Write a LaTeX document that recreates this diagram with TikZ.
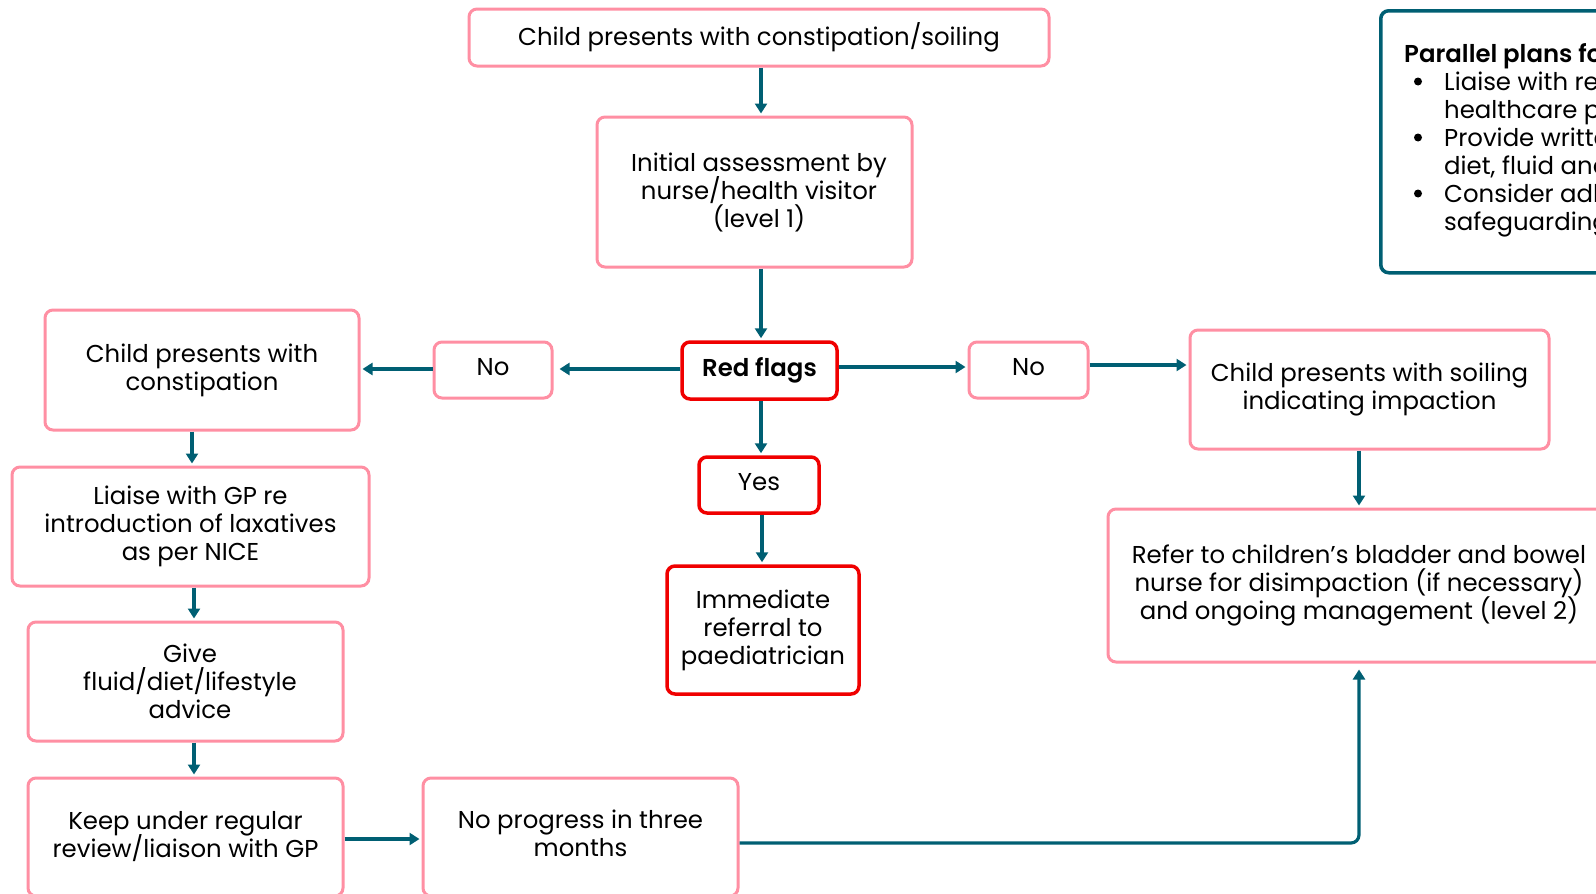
\documentclass[tikz,border=0pt]{standalone}
\usepackage{fontspec}
\setmainfont{Poppins}
\newfontfamily\semib{Poppins SemiBold}
\usetikzlibrary{arrows.meta,calc}
\definecolor{pinkb}{RGB}{255,143,163}
\definecolor{tealc}{RGB}{0,95,115}
\definecolor{redb}{RGB}{240,0,0}
\newcommand{\boxfont}{\fontsize{24.4}{28}\selectfont\lineskiplimit=-100pt\relax}
\newcommand{\sh}{\hspace*{9pt}}
\begin{document}
\begin{tikzpicture}[x=1pt,y=-1pt,
 box/.style={draw=pinkb, line width=3pt, rounded corners=8pt, align=center, inner sep=0pt, fill=white, font=\boxfont},
 rbox/.style={box, draw=redb, line width=3.5pt},
 arr/.style={draw=tealc, line width=3.2pt, -{Triangle[length=10pt,width=12pt]}, shorten >=2pt},
 bul/.style={fill=black},
]
\useasboundingbox (0,0) rectangle (1596,894);
\begin{scope}
\clip (0,0) rectangle (1596,894);
\node[box, minimum width=580pt, minimum height=57pt] (top) at (759,37.5) {Child presents with constipation/soiling};
\node[box, minimum width=315pt, minimum height=150pt] (init) at (754.5,192) {\sh Initial assessment by\\\sh nurse/health visitor\\\sh (level 1)};
\node[rbox, minimum width=155pt, minimum height=57pt, font=\boxfont\semib] (red) at (759.5,370.5) {Red flags};
\node[box, minimum width=118pt, minimum height=56pt] (noL) at (493,370) {No\strut};
\node[box, minimum width=119pt, minimum height=56pt] (noR) at (1028.5,370) {No\strut};
\node[box, minimum width=314pt, minimum height=120pt] (cons) at (202,370) {Child presents with\\constipation};
\node[box, minimum width=359pt, minimum height=119pt] (soil) at (1369.5,389.5) {Child presents with soiling\\indicating impaction};
\node[rbox, minimum width=120pt, minimum height=56pt] (yes) at (759,485) {Yes\strut};
\node[rbox, minimum width=192pt, minimum height=128pt] (imm) at (763,630) {Immediate\\referral to\\paediatrician};
\node[box, minimum width=357pt, minimum height=119pt] (liaise) at (190.5,526.5) {Liaise with GP re\\introduction of laxatives\\as per NICE};
\node[box, minimum width=315pt, minimum height=119pt] (give) at (185.5,681.5) {\sh Give\\\sh fluid/diet/lifestyle\\\sh advice};
\node[box, minimum width=315pt, minimum height=118pt] (keep) at (185.5,837) {Keep under regular\\review/liaison with GP};
\node[box, minimum width=315pt, minimum height=118pt] (nop) at (580.5,837) {No progress in three\\months\strut};
\node[box, minimum width=502pt, minimum height=153pt] (refer) at (1359,585.5) {Refer to children’s bladder and bowel\\nurse for disimpaction (if necessary)\\and ongoing management (level 2)};
\node[draw=tealc, line width=3.5pt, rounded corners=8pt, minimum width=330pt, minimum height=262pt, anchor=north west, inner sep=0pt] (par) at (1379,9) {};
\node[anchor=north west, inner sep=0pt, align=left, font=\boxfont] (partext) at (1404,43) {%
{\semib Parallel plans for all children}\\
\hspace*{40pt}Liaise with relevant\\
\hspace*{40pt}healthcare professionals\\
\hspace*{40pt}Provide written information on\\
\hspace*{40pt}diet, fluid and toileting\\
\hspace*{40pt}Consider adherence and\\
\hspace*{40pt}safeguarding issues};
\fill[bul] (1418,81.5) circle[radius=4pt];
\fill[bul] (1418,137.5) circle[radius=4pt];
\fill[bul] (1418,193.5) circle[radius=4pt];
\coordinate (c1) at (192,0);
\coordinate (c2) at (194,0);
\coordinate (cm) at (761,0);
\coordinate (cm2) at (762,0);
\draw[arr] (top.south -| cm) -- (init.north -| cm);
\draw[arr] (init.south -| cm) -- (red.north -| cm);
\draw[arr, shorten >=6pt] ([yshift=1.5pt]red.west) -- ([yshift=1.5pt]red.west -| noL.east);
\draw[arr] ([yshift=1pt]noL.west) -- ([yshift=1pt]noL.west -| cons.east);
\draw[arr] ([yshift=3.5pt]red.east) -- ([yshift=3.5pt]red.east -| noR.west);
\draw[arr] ([yshift=5pt]noR.east) -- ([yshift=5pt]noR.east -| soil.west);
\draw[arr] (red.south -| cm) -- (yes.north -| cm);
\draw[arr] (yes.south -| cm2) -- (imm.north -| cm2);
\draw[arr] (cons.south -| c1) -- (liaise.north -| c1);
\draw[arr] (liaise.south -| c2) -- (give.north -| c2);
\draw[arr] (give.south -| c2) -- (keep.north -| c2);
\draw[arr] ([yshift=-2pt]keep.east) -- ([yshift=-2pt]keep.east -| nop.west);
\draw[arr, rounded corners=8pt, shorten >=6pt] ([yshift=-6pt]nop.east) -| (refer.south);
\draw[arr] (refer.north |- soil.south) -- (refer.north);
\end{scope}
\end{tikzpicture}
\end{document}
